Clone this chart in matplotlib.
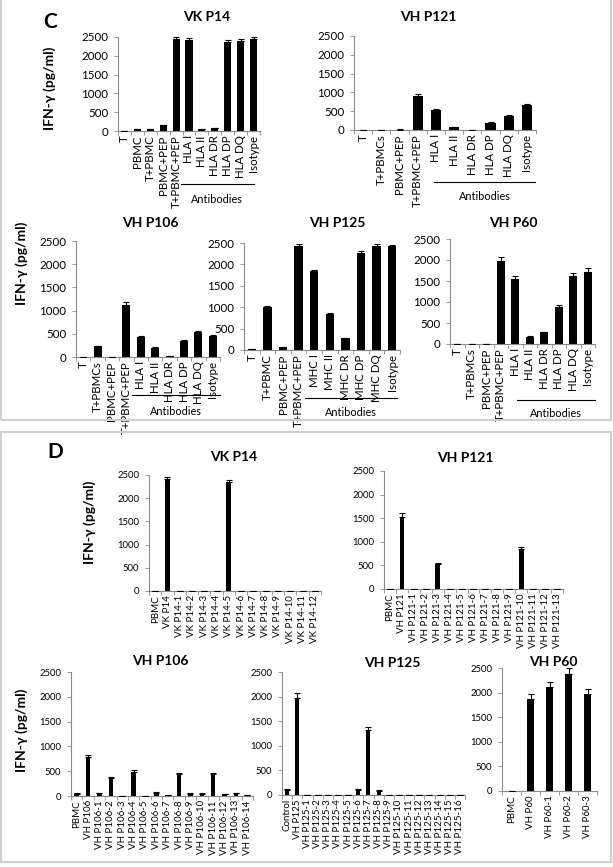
import numpy as np
import matplotlib.pyplot as plt
from matplotlib.patches import Rectangle
import matplotlib.transforms as mtransforms

plt.rcParams['font.family'] = ['Lato', 'DejaVu Sans']

# ---- panel C data ----
c_vk14_cats = ['T', 'PBMC', 'T+PBMC', 'PBMC+PEP', 'T+PBMC+PEP', 'HLA I', 'HLA II', 'HLA DR', 'HLA DP', 'HLA DQ', 'Isotype']
c_vk14_vals = [0, 50, 50, 150, 2450, 2420, 60, 80, 2360, 2390, 2450]
c_vk14_errs = [0, 5, 5, 10, 50, 50, 5, 5, 50, 50, 45]

c_vh121_cats = ['T', 'T+PBMCs', 'PBMC+PEP', 'T+PBMC+PEP', 'HLA I', 'HLA II', 'HLA DR', 'HLA DP', 'HLA DQ', 'Isotype']
c_vh121_vals = [5, 0, 5, 910, 520, 70, 0, 190, 370, 660]
c_vh121_errs = [0, 0, 30, 50, 30, 10, 0, 15, 25, 25]

c_vh106_cats = ['T', 'T+PBMCs', 'PBMC+PEP', 'T+PBMC+PEP', 'HLA I', 'HLA II', 'HLA DR', 'HLA DP', 'HLA DQ', 'Isotype']
c_vh106_vals = [10, 230, 0, 1130, 440, 200, 20, 350, 540, 460]
c_vh106_errs = [0, 10, 0, 60, 20, 10, 0, 20, 30, 20]

c_vh125_cats = ['T', 'T+PBMC', 'PBMC+PEP', 'T+PBMC+PEP', 'MHC I', 'MHC II', 'MHC DR', 'MHC DP', 'MHC DQ', 'Isotype']
c_vh125_vals = [20, 1010, 60, 2430, 1850, 850, 270, 2270, 2430, 2420]
c_vh125_errs = [0, 15, 5, 50, 25, 10, 5, 40, 45, 40]

c_vh60_cats = ['T', 'T+PBMCs', 'PBMC+PEP', 'T+PBMC+PEP', 'HLA I', 'HLA II', 'HLA DR', 'HLA DP', 'HLA DQ', 'Isotype']
c_vh60_vals = [0, 0, 0, 1980, 1550, 170, 280, 890, 1610, 1720]
c_vh60_errs = [0, 0, 0, 90, 60, 10, 15, 40, 80, 80]

# ---- panel D data ----
d_vk14_cats = ['PBMC', 'VK P14'] + ['VK P14-%d' % i for i in range(1, 13)]
d_vk14_vals = [0, 2410, 0, 0, 0, 0, 2340, 0, 0, 0, 0, 0, 0, 0]
d_vk14_errs = [0, 50, 0, 0, 0, 0, 50, 0, 0, 0, 0, 0, 0, 0]

d_vh121_cats = ['PBMC', 'VH P121'] + ['VH P121-%d' % i for i in range(1, 14)]
d_vh121_vals = [0, 1530, 0, 0, 520, 0, 0, 0, 0, 0, 0, 840, 0, 0, 0]
d_vh121_errs = [0, 70, 0, 0, 30, 0, 0, 0, 0, 0, 0, 40, 0, 0, 0]

d_vh106_cats = ['PBMC', 'VH P106'] + ['VH P106-%d' % i for i in range(1, 15)]
d_vh106_vals = [50, 790, 60, 370, 5, 490, 5, 70, 20, 450, 50, 50, 440, 40, 60, 25]
d_vh106_errs = [5, 30, 5, 10, 0, 25, 0, 5, 0, 15, 5, 5, 20, 5, 5, 3]

d_vh125_cats = ['Control', 'VH P125'] + ['VH P125-%d' % i for i in range(1, 17)]
d_vh125_vals = [110, 1980, 0, 0, 0, 0, 0, 110, 1330, 90, 0, 0, 0, 0, 0, 0, 0, 0]
d_vh125_errs = [20, 100, 0, 0, 0, 0, 0, 20, 60, 20, 0, 0, 0, 0, 0, 0, 0, 0]

d_vh60_cats = ['PBMC', 'VH P60', 'VH P60-1', 'VH P60-2', 'VH P60-3']
d_vh60_vals = [0, 1870, 2120, 2380, 1980]
d_vh60_errs = [0, 100, 100, 120, 100]

W, H = 613, 867
fig = plt.figure(figsize=(W / 100, H / 100), dpi=100)
GRAY = '#8a8a8a'


def box(l, t, r, b):
    return [l / W, 1 - b / H, (r - l) / W, (b - t) / H]


def draw(rect, cats, vals, errs, fsx, fsy, bw):
    ax = fig.add_axes(box(*rect))
    x = np.arange(len(cats))
    ax.bar(x, vals, width=bw, color='black', zorder=2)
    ax.errorbar(x, vals, yerr=[np.zeros(len(vals)), errs], fmt='none', ecolor='black',
                elinewidth=0.8, capsize=2, capthick=0.8, zorder=3)
    ax.set_xlim(-0.5, len(cats) - 0.5)
    ax.set_ylim(0, 2500)
    ax.set_yticks(range(0, 2501, 500))
    ax.tick_params(axis='y', labelsize=fsy, length=3, width=0.6, color=GRAY, pad=4)
    ax.set_xticks(x)
    ax.set_xticklabels(cats, rotation=90, fontsize=fsx)
    ax.tick_params(axis='x', which='major', length=0, pad=3)
    ax.set_xticks(np.arange(len(cats) + 1) - 0.5, minor=True)
    ax.tick_params(axis='x', which='minor', length=3, width=0.6, color=GRAY)
    for s in ['top', 'right']:
        ax.spines[s].set_visible(False)
    for s in ['left', 'bottom']:
        ax.spines[s].set_color(GRAY)
        ax.spines[s].set_linewidth(0.8)
    ax.patch.set_alpha(0)
    return ax


def antibodies(ax, x0, x1, yl, yt, fs):
    tr = mtransforms.blended_transform_factory(ax.transData, ax.transAxes)
    ax.plot([x0, x1], [yl, yl], color='black', lw=0.8, transform=tr, clip_on=False)
    ax.text((x0 + x1) / 2, yt, 'Antibodies', transform=tr, ha='center', va='center', fontsize=fs)


def ftext(x, y, s, **kw):
    fig.text(x / W, 1 - y / H, s, **kw)


# ---- panel C ----
fsC = 8.3
a = draw((118, 37, 260, 131), c_vk14_cats, c_vk14_vals, c_vk14_errs, fsC, fsC, 0.55)
antibodies(a, 4.35, 10.05, -0.56, -0.73, 7.8)
a = draw((354, 36, 536, 130), c_vh121_cats, c_vh121_vals, c_vh121_errs, fsC, fsC, 0.55)
antibodies(a, 3.9, 9.45, -0.55, -0.71, 7.8)
a = draw((76, 241, 220, 357), c_vh106_cats, c_vh106_vals, c_vh106_errs, fsC, fsC, 0.55)
antibodies(a, 3.4, 9.5, -0.33, -0.47, 7.8)
a = draw((244, 243, 400, 350), c_vh125_cats, c_vh125_vals, c_vh125_errs, fsC, fsC, 0.55)
antibodies(a, 3.4, 9.3, -0.45, -0.58, 7.8)
a = draw((450, 239, 595, 344), c_vh60_cats, c_vh60_vals, c_vh60_errs, fsC, fsC, 0.55)
antibodies(a, 4.1, 9.5, -0.53, -0.66, 7.8)

tkw = dict(ha='center', va='center', fontsize=10, fontweight='bold')
ftext(207, 17, 'VK P14', **tkw)
ftext(428, 17, 'VH P121', **tkw)
ftext(150, 223, 'VH P106', **tkw)
ftext(337, 223, 'VH P125', **tkw)
ftext(513, 223, 'VH P60', **tkw)

ykw = dict(ha='center', va='center', fontsize=10, fontweight='bold', rotation=90)
ftext(50, 88, 'IFN-γ (pg/ml)', **ykw)
ftext(22, 263, 'IFN-γ (pg/ml)', **ykw)

ftext(50, 22, 'C', ha='center', va='center', fontsize=15, fontweight='bold')

# ---- panel D ----
fsDx, fsDy = 7.0, 6.8
draw((149, 475, 321, 591), d_vk14_cats, d_vk14_vals, d_vk14_errs, fsDx, fsDy, 0.4)
draw((384, 471, 563, 589), d_vh121_cats, d_vh121_vals, d_vh121_errs, fsDx, fsDy, 0.4)
draw((71, 672, 253, 796), d_vh106_cats, d_vh106_vals, d_vh106_errs, fsDx, fsDy, 0.4)
draw((282, 672, 465, 795), d_vh125_cats, d_vh125_vals, d_vh125_errs, fsDx, fsDy, 0.4)
draw((502, 668, 597, 791), d_vh60_cats, d_vh60_vals, d_vh60_errs, fsDx, fsDy, 0.4)

ftext(234, 457, 'VK P14', **tkw)
ftext(465, 458, 'VH P121', **tkw)
ftext(160, 661, 'VH P106', **tkw)
ftext(392, 663, 'VH P125', **tkw)
ftext(553, 662, 'VH P60', **tkw)

ftext(90, 522, 'IFN-γ (pg/ml)', **ykw)
ftext(22, 730, 'IFN-γ (pg/ml)', **ykw)

ftext(55, 452, 'D', ha='center', va='center', fontsize=15, fontweight='bold')

# panel borders
for (l, t, r, b) in [(1, -2, 611, 420), (1, 432, 611, 862)]:
    fig.patches.append(Rectangle((l / W, 1 - b / H), (r - l) / W, (b - t) / H, fill=False,
                                 edgecolor='#cfcfcf', lw=1.5, transform=fig.transFigure))

fig.savefig('out.png', dpi=100)
